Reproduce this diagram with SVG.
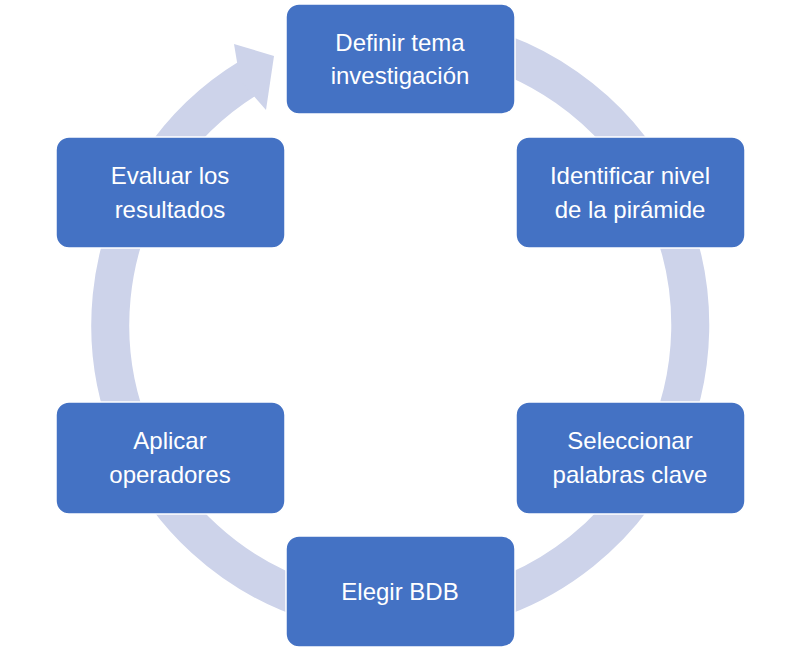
<svg xmlns="http://www.w3.org/2000/svg" width="800" height="651" viewBox="0 0 800 651">
<style>
.b{fill:#4472c4;stroke:#fff;stroke-width:1.5}
.t{fill:#fff;font-family:"Liberation Sans",Arial,sans-serif;font-size:24px;text-anchor:middle}
</style>
<rect width="800" height="651" fill="#fff"/>
<g id="connectors">
<path d="M450.4,39.4 A290,290 0 1 1 250,77" fill="none" stroke="#cdd3ea" stroke-width="38"/>
<polygon points="235,45 273,57 265,108 " fill="#cdd3ea"/>
<polygon points="234,44 274,56 266,110 240,80" fill="#cdd3ea"/>
</g>
<g id="n1"><rect class="b" x="286" y="4" width="229" height="110" rx="13"/><text class="t" x="400" y="51">Definir tema</text><text class="t" x="400" y="84">investigación</text></g>
<g id="n2"><rect class="b" x="516" y="137" width="229" height="111" rx="13"/><text class="t" x="630" y="184">Identificar nivel</text><text class="t" x="630" y="218">de la pirámide</text></g>
<g id="n3"><rect class="b" x="516" y="402" width="229" height="112" rx="13"/><text class="t" x="630" y="449">Seleccionar</text><text class="t" x="630" y="483">palabras clave</text></g>
<g id="n4"><rect class="b" x="286" y="536" width="229" height="111" rx="13"/><text class="t" x="400" y="600">Elegir BDB</text></g>
<g id="n5"><rect class="b" x="56" y="402" width="229" height="112" rx="13"/><text class="t" x="170" y="449">Aplicar</text><text class="t" x="170" y="483">operadores</text></g>
<g id="n6"><rect class="b" x="56" y="137" width="229" height="111" rx="13"/><text class="t" x="170" y="184">Evaluar los</text><text class="t" x="170" y="218">resultados</text></g>
</svg>
